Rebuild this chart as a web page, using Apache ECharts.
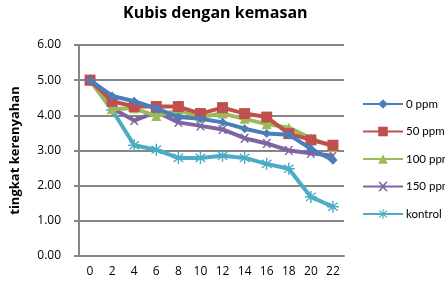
<!DOCTYPE html>
<html><head><meta charset="utf-8">
<script src="https://cdn.jsdelivr.net/npm/echarts@6/dist/echarts.min.js"></script>
<style>html,body{margin:0;padding:0;background:#fff}#c{width:445px;height:290px}</style>
</head><body><div id="c"></div>
<script>
const categories = ['0','2','4','6','8','10','12','14','16','18','20','22'];
const ppm0   = [5.00,4.55,4.40,4.20,3.95,3.90,3.80,3.62,3.48,3.45,3.05,2.72];
const ppm50  = [5.00,4.40,4.25,4.25,4.25,4.05,4.22,4.05,3.95,3.48,3.30,3.15];
const ppm100 = [5.00,4.18,4.20,3.98,4.15,3.95,4.05,3.90,3.75,3.65,3.35,3.10];
const ppm150 = [5.00,4.20,3.85,4.10,3.80,3.70,3.60,3.35,3.20,3.00,2.92,2.85];
const kontrol= [5.00,4.15,3.15,3.02,2.79,2.79,2.85,2.79,2.62,2.48,1.68,1.40];
const seriesNames = ['0 ppm','50 ppm','100 ppm','150 ppm','kontrol'];
const colors = ['#4A7EBB','#C0504D','#9BBB59','#8064A2','#4BACC6'];
const yTicks = {min:0, max:6, interval:1};

const xPath = 'path://M0,0 L2,0 L5,3.5 L8,0 L10,0 L6,5 L10,10 L8,10 L5,6.5 L2,10 L0,10 L4,5 Z';
const starPath = 'path://M4.4,0 H5.6 V3.6 L8.6,1.2 L9.4,2 L6.4,4.4 H10 V5.6 H6.4 L9.4,8 L8.6,8.8 L5.6,6.4 V10 H4.4 V6.4 L1.4,8.8 L0.6,8 L3.6,5.6 H0 V4.4 H3.6 L0.6,2 L1.4,1.2 L4.4,3.6 Z';
const symbols = ['diamond','rect','triangle',xPath,starPath];
const sizes = [9,11,10,9,12];
const data = [ppm0,ppm50,ppm100,ppm150,kontrol];
const FONT = '"Open Sans", sans-serif';

const chart = echarts.init(document.getElementById('c'));
chart.setOption({
  animation:false,
  textStyle:{fontFamily:FONT},
  title:{text:'Kubis dengan kemasan', left:118, top:0,
    textStyle:{fontSize:16, fontWeight:'bold', color:'#000', fontFamily:FONT}},
  legend:{orient:'vertical', left:357, top:93, itemGap:15.5, itemWidth:40, itemHeight:12,
    textStyle:{fontSize:11.5, color:'#000', fontFamily:'Lato, sans-serif', lineHeight:12, padding:[0,0,0,-2]},
    lineStyle:{width:2}, data:seriesNames},
  grid:{left:79, right:101, top:45, bottom:34},
  xAxis:{type:'category', data:categories, boundaryGap:true,
    axisLine:{lineStyle:{color:'#868686', width:2}}, axisTick:{show:false},
    axisLabel:{color:'#000', fontSize:12, margin:10}},
  yAxis:{type:'value', min:yTicks.min, max:yTicks.max, interval:yTicks.interval,
    name:'tingkat kerenyahan', nameLocation:'middle', nameGap:57, nameRotate:90,
    nameTextStyle:{fontSize:13, fontWeight:'bold', color:'#000'},
    axisLine:{show:true, lineStyle:{color:'#868686', width:2}},
    axisTick:{show:true, length:5, lineStyle:{color:'#868686', width:2}},
    axisLabel:{color:'#000', fontSize:12, margin:18, formatter:v=>v.toFixed(2)},
    splitLine:{lineStyle:{color:'#868686', width:2}}},
  series:data.map((d,i)=>({
    name:seriesNames[i], type:'line', data:d, symbol:symbols[i], symbolSize:sizes[i],
    lineStyle:{color:colors[i], width:4}, itemStyle:{color:colors[i]}, z:10-i
  }))
});
</script></body></html>
